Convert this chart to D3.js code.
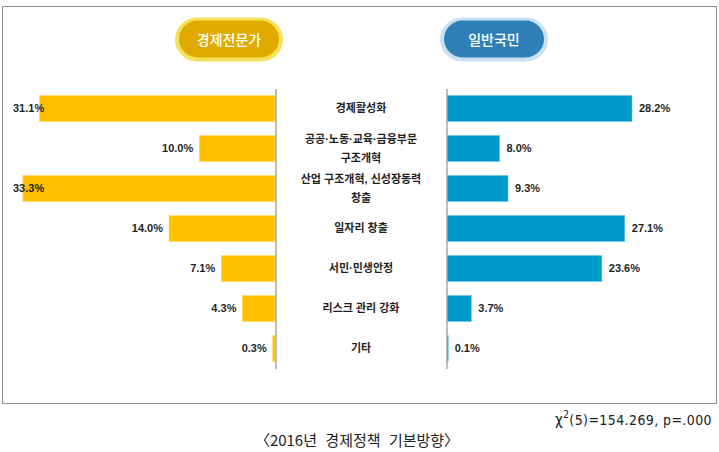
<!DOCTYPE html>
<html>
<head>
<meta charset="utf-8">
<script src="https://cdn.jsdelivr.net/npm/d3@7"></script>
<style>
  body { margin: 0; background: #fff; }
  svg { display: block; }
</style>
</head>
<body>
<svg id="drawing_region"></svg>
<script>
// category labels (one entry per row, split into lines)
const categories = [
    ["경제활성화"],
    ["공공·노동·교육·금융부문", "구조개혁"],
    ["산업 구조개혁, 신성장동력", "창출"],
    ["일자리 창출"],
    ["서민·민생안정"],
    ["리스크 관리 강화"],
    ["기타"]
];
const groups = ["경제전문가", "일반국민"];
const expertValues = [31.1, 10.0, 33.3, 14.0, 7.1, 4.3, 0.3];
const publicValues = [28.2, 8.0, 9.3, 27.1, 23.6, 3.7, 0.1];
const statText = "(5)=154.269, p=.000";
const captionText = "〈2016년 경제정책 기본방향〉";

const config = {
    width: 719,
    height: 452,
    leftAxis: 275,
    rightAxis: 447,
    top: 88.5,
    bottom: 368.5
};

const svg = d3.select('#drawing_region')
    .attr('width', config.width)
    .attr('height', config.height);

const korean = "'Noto Sans CJK KR', 'Noto Sans', sans-serif";
const mixed = "'Liberation Sans', 'Noto Sans CJK KR', sans-serif";
const latin = "'Liberation Sans', Arial, sans-serif";

// dotted frame
svg.append('rect')
    .attr('x', 2.5).attr('y', 6.5)
    .attr('width', 714).attr('height', 397)
    .attr('fill', 'none')
    .attr('stroke', '#222')
    .attr('stroke-width', 1)
    .attr('stroke-dasharray', '1,1');

const rows = d3.range(categories.length);

const yscale = d3.scaleBand()
    .domain(rows)
    .range([config.top, config.bottom])
    .paddingInner(0.35)
    .paddingOuter(0.175);

const xleft = d3.scaleLinear()
    .domain([0, 35])
    .range([config.leftAxis, config.leftAxis - 265]);

const xright = d3.scaleLinear()
    .domain([0, 35])
    .range([config.rightAxis, config.rightAxis + 229.6]);

// left (experts) bars
svg.selectAll('.bar-left')
    .data(expertValues)
    .enter()
    .append('rect')
    .attr('class', 'bar-left')
    .attr('x', d => xleft(d))
    .attr('y', (d, i) => yscale(i))
    .attr('width', d => xleft(0) - xleft(d))
    .attr('height', yscale.bandwidth())
    .attr('fill', '#ffc000')
    .attr('stroke', '#ffd966')
    .attr('stroke-width', 0.6);

// right (public) bars
svg.selectAll('.bar-right')
    .data(publicValues)
    .enter()
    .append('rect')
    .attr('class', 'bar-right')
    .attr('x', xright(0))
    .attr('y', (d, i) => yscale(i))
    .attr('width', d => Math.max(xright(d) - xright(0), 1.2))
    .attr('height', yscale.bandwidth())
    .attr('fill', '#0099cc')
    .attr('stroke', '#66c2e0')
    .attr('stroke-width', 0.6);

// vertical axis lines
const laxis = d3.axisLeft(yscale).tickSize(0).tickFormat('');
const raxis = d3.axisRight(yscale).tickSize(0).tickFormat('');
svg.append('g')
    .attr('transform', `translate(${config.leftAxis + 0.5},0)`)
    .call(laxis)
    .call(g => g.select('.domain').attr('stroke', '#a6a6a6').attr('stroke-width', 1.5));
svg.append('g')
    .attr('transform', `translate(${config.rightAxis - 0.5},0)`)
    .call(raxis)
    .call(g => g.select('.domain').attr('stroke', '#a6a6a6').attr('stroke-width', 1.5));

// value labels, left side
svg.selectAll('.val-left')
    .data(expertValues)
    .enter()
    .append('text')
    .attr('class', 'val-left')
    .attr('y', (d, i) => yscale(i) + yscale.bandwidth() / 2)
    .attr('dy', '0.36em')
    .attr('text-anchor', 'end')
    .style('font-family', latin)
    .style('font-size', '11px')
    .style('font-weight', 'bold')
    .attr('fill', '#1f1f1f')
    .text(d => d.toFixed(1) + '%')
    .attr('x', function(d) {
        const w = this.getComputedTextLength();
        return Math.max(xleft(d) - 6, 13 + w);
    });

// value labels, right side
svg.selectAll('.val-right')
    .data(publicValues)
    .enter()
    .append('text')
    .attr('class', 'val-right')
    .attr('x', d => xright(d) + 7)
    .attr('y', (d, i) => yscale(i) + yscale.bandwidth() / 2)
    .attr('dy', '0.36em')
    .style('font-family', latin)
    .style('font-size', '11px')
    .style('font-weight', 'bold')
    .attr('fill', '#1f1f1f')
    .text(d => d.toFixed(1) + '%');

// category labels in the middle
const mid = (config.leftAxis + config.rightAxis) / 2;
const catLabels = svg.selectAll('.cat')
    .data(categories)
    .enter()
    .append('text')
    .attr('class', 'cat')
    .attr('text-anchor', 'middle')
    .style('font-family', mixed)
    .style('font-size', '11px')
    .style('font-weight', 'bold')
    .attr('fill', '#1f1f1f');

catLabels.each(function(lines, i) {
    const cy = yscale(i) + yscale.bandwidth() / 2;
    const lh = 19;
    const t0 = cy - (lines.length - 1) * lh / 2;
    d3.select(this).selectAll('tspan')
        .data(lines)
        .enter()
        .append('tspan')
        .attr('x', mid)
        .attr('y', (d, j) => t0 + j * lh)
        .attr('dy', '0.36em')
        .text(d => d);
});

// group pills
const pills = [
    { name: groups[0], cx: 229, fill: '#e0aa00', ring: '#f5e15a' },
    { name: groups[1], cx: 494, fill: '#2e7fb8', ring: '#c7e0f2' }
];
const pill = svg.selectAll('.pill')
    .data(pills)
    .enter()
    .append('g')
    .attr('class', 'pill')
    .attr('transform', d => `translate(${d.cx},39.5)`);

pill.append('rect')
    .attr('x', -54).attr('y', -22)
    .attr('width', 108).attr('height', 44)
    .attr('rx', 22)
    .attr('fill', d => d.ring);
pill.append('rect')
    .attr('x', -50).attr('y', -19)
    .attr('width', 100).attr('height', 37)
    .attr('rx', 18.5)
    .attr('fill', d => d.fill);
pill.append('text')
    .attr('text-anchor', 'middle')
    .attr('dy', '0.36em')
    .style('font-family', korean)
    .style('font-size', '14px')
    .style('font-weight', 500)
    .attr('fill', '#fff')
    .text(d => d.name);

// statistic
const stat = svg.append('text')
    .attr('x', 712)
    .attr('y', 425)
    .attr('text-anchor', 'end')
    .style('font-family', "'DejaVu Sans Condensed', 'Liberation Sans Narrow', sans-serif")
    .style('font-size', '14px')
    .style('letter-spacing', '0.4px')
    .attr('fill', '#222');
stat.append('tspan').style('font-size', '15px').text('χ');
stat.append('tspan').attr('dy', -7).style('font-size', '10px').text('2');
stat.append('tspan').attr('dy', 7).text(statText);

// caption
svg.append('text')
    .attr('x', 357)
    .attr('y', 446)
    .attr('text-anchor', 'middle')
    .style('font-family', korean)
    .style('font-size', '15px')
    .style('word-spacing', '5px')
    .attr('fill', '#222')
    .text(captionText);
</script>
</body>
</html>
